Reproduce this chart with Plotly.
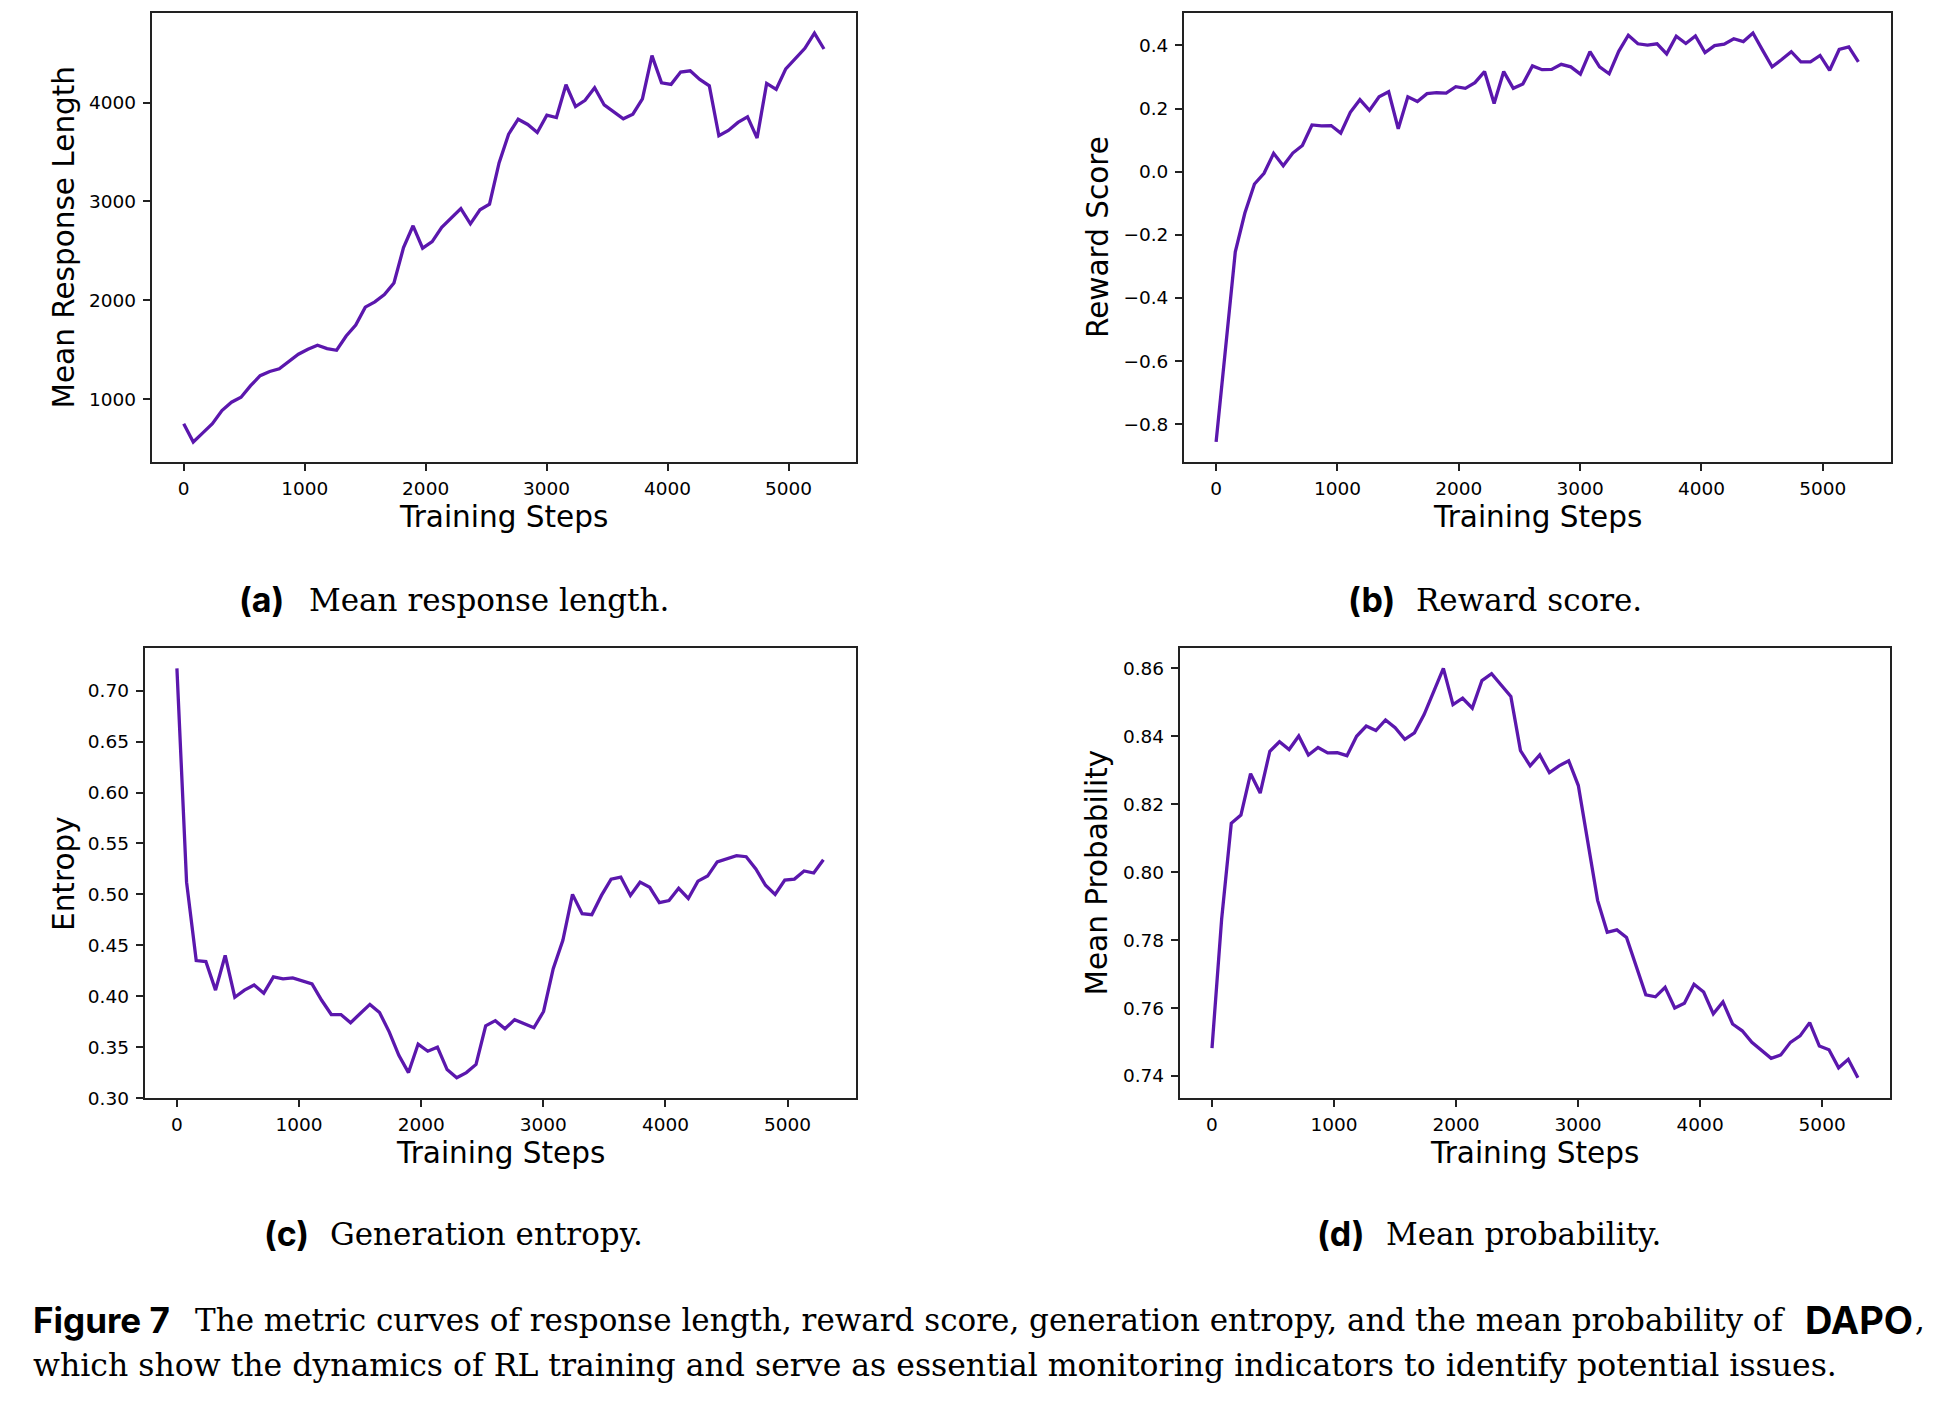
import plotly.graph_objects as go

# ---------------- data ----------------
steps = list(range(0, 5294, 79))  # 68 logged training steps

response_length = [752, 568, 660, 752, 886, 970, 1020, 1137, 1238, 1281,
                   1308, 1382, 1455, 1506, 1546, 1512, 1495, 1639, 1750, 1931,
                   1984, 2058, 2175, 2533, 2754, 2527, 2594, 2738, 2838, 2928,
                   2774, 2915, 2972, 3390, 3680, 3832, 3779, 3698, 3872, 3849,
                   4180, 3960, 4023, 4150, 3976, 3906, 3836, 3882, 4037, 4475,
                   4200, 4184, 4308, 4321, 4234, 4170, 3665, 3718, 3799, 3856,
                   3641, 4194, 4134, 4341, 4448, 4549, 4703, 4542]

reward_score = [-0.856, -0.555, -0.254, -0.131, -0.039, -0.005, 0.058, 0.019, 0.059, 0.083,
                0.148, 0.145, 0.146, 0.122, 0.188, 0.228, 0.194, 0.237, 0.253, 0.136,
                0.237, 0.222, 0.247, 0.250, 0.249, 0.269, 0.264, 0.282, 0.317, 0.216,
                0.317, 0.264, 0.278, 0.335, 0.323, 0.324, 0.340, 0.332, 0.309, 0.380,
                0.332, 0.310, 0.381, 0.432, 0.405, 0.401, 0.405, 0.373, 0.429, 0.406,
                0.430, 0.377, 0.399, 0.404, 0.421, 0.412, 0.439, 0.385, 0.332, 0.355,
                0.380, 0.348, 0.348, 0.368, 0.321, 0.387, 0.395, 0.348]

entropy = [0.722, 0.512, 0.435, 0.434, 0.406, 0.440, 0.399, 0.406, 0.411, 0.403,
           0.419, 0.417, 0.418, 0.415, 0.412, 0.396, 0.382, 0.382, 0.374, 0.383,
           0.392, 0.384, 0.365, 0.342, 0.325, 0.353, 0.346, 0.350, 0.328, 0.320,
           0.325, 0.333, 0.371, 0.376, 0.368, 0.377, 0.373, 0.369, 0.385, 0.427,
           0.455, 0.500, 0.481, 0.480, 0.499, 0.515, 0.517, 0.499, 0.512, 0.507,
           0.492, 0.494, 0.506, 0.496, 0.513, 0.518, 0.532, 0.535, 0.538, 0.537,
           0.525, 0.509, 0.500, 0.514, 0.515, 0.523, 0.521, 0.534]

mean_prob = [0.7482, 0.7862, 0.8144, 0.8168, 0.8290, 0.8233, 0.8356, 0.8384, 0.8361, 0.8401,
             0.8345, 0.8367, 0.8351, 0.8352, 0.8343, 0.8400, 0.8430, 0.8417, 0.8448, 0.8425,
             0.8391, 0.8410, 0.8464, 0.8531, 0.8600, 0.8493, 0.8512, 0.8483, 0.8564, 0.8584,
             0.8551, 0.8517, 0.8358, 0.8313, 0.8345, 0.8293, 0.8313, 0.8328, 0.8255, 0.8085,
             0.7917, 0.7823, 0.7830, 0.7808, 0.7726, 0.7639, 0.7633, 0.7661, 0.7600, 0.7614,
             0.7670, 0.7647, 0.7583, 0.7618, 0.7553, 0.7533, 0.7499, 0.7477, 0.7452, 0.7462,
             0.7499, 0.7518, 0.7557, 0.7488, 0.7477, 0.7424, 0.7449, 0.7395]

x_ticks = [0, 1000, 2000, 3000, 4000, 5000]
y_ticks_a = [1000, 2000, 3000, 4000]
y_ticks_b = [-0.8, -0.6, -0.4, -0.2, 0.0, 0.2, 0.4]
y_ticks_c = [0.30, 0.35, 0.40, 0.45, 0.50, 0.55, 0.60, 0.65, 0.70]
y_ticks_d = [0.74, 0.76, 0.78, 0.80, 0.82, 0.84, 0.86]

y_labels = ["Mean Response Length", "Reward Score", "Entropy", "Mean Probability"]
x_label = "Training Steps"
sub_tags = ["(a)", "(b)", "(c)", "(d)"]
sub_texts = ["Mean response length.", "Reward score.", "Generation entropy.", "Mean probability."]

# ---------------- layout helpers ----------------
W, H = 1938, 1408
LINE_COLOR = "#5b17ad"
AX_COLOR = "#222222"
SANS = "DejaVu Sans"
SERIF = "DejaVu Serif"
BOLD = "Inter"


def px(x):
    return x / W


def py(y):
    return 1 - y / H


def padded(vals, frac=0.05):
    lo, hi = min(vals), max(vals)
    d = (hi - lo) * frac
    return [lo - d, hi + d]


# panel frames in pixels: (left, right, top, bottom)
frames = [(151.7, 856.0, 12.7, 465.7),
          (1184.0, 1890.5, 12.7, 465.7),
          (144.6, 855.7, 652.5, 1106.0),
          (1179.7, 1890.2, 652.5, 1106.0)]

series = [response_length, reward_score, entropy, mean_prob]
yticks = [y_ticks_a, y_ticks_b, y_ticks_c, y_ticks_d]
yfmts = ["d", ".1f", ".2f", ".2f"]

fig = go.Figure()
annotations = []

for k in range(4):
    l, r, t, b = frames[k]
    xa = "x" if k == 0 else f"x{k+1}"
    ya = "y" if k == 0 else f"y{k+1}"
    fig.add_trace(go.Scatter(x=steps, y=series[k], mode="lines",
                             line=dict(color=LINE_COLOR, width=3.3),
                             xaxis=xa, yaxis=ya, showlegend=False, hoverinfo="skip"))
    common = dict(showline=True, mirror=True, linecolor=AX_COLOR, linewidth=1.8,
                  ticks="outside", ticklen=7, tickwidth=1.8, tickcolor=AX_COLOR,
                  showgrid=False, zeroline=False,
                  tickfont=dict(family=SANS, size=18.5, color="black"))
    xkey = "xaxis" if k == 0 else f"xaxis{k+1}"
    ykey = "yaxis" if k == 0 else f"yaxis{k+1}"
    fig.update_layout(**{
        xkey: dict(domain=[px(l), px(r)], anchor=ya, range=padded(steps),
                   tickmode="array", tickvals=x_ticks, ticktext=[str(v) for v in x_ticks],
                   ticklabelstandoff=2, **common),
        ykey: dict(domain=[py(b), py(t)], anchor=xa, range=padded(series[k]),
                   tickmode="array", tickvals=yticks[k], tickformat=yfmts[k],
                   ticklabelstandoff=3, **common),
    })
    # axis titles
    yl_x = {0: 64.0, 1: 1097.5, 2: 64.0, 3: 1097.5}[k]
    annotations.append(dict(x=px(yl_x), y=py((t + b) / 2), xref="paper", yref="paper",
                            text=y_labels[k], textangle=-90, showarrow=False,
                            xanchor="center", yanchor="middle",
                            font=dict(family=SANS, size=29.5, color="black")))
    annotations.append(dict(x=px((l + r) / 2), y=py(b + 55), xref="paper", yref="paper",
                            text=x_label, showarrow=False, xanchor="center", yanchor="middle",
                            font=dict(family=SANS, size=29.5, color="black")))

# sub-captions
sub_pos = [(237.3, 307.3, 604.0), (1346.0, 1414.0, 604.0),
           (262.0, 328.0, 1242.5), (1315.0, 1384.0, 1242.5)]
for k in range(4):
    xt, xs, ym = sub_pos[k]
    annotations.append(dict(x=px(xt), y=py(ym), xref="paper", yref="paper", text="<b>" + sub_tags[k] + "</b>",
                            showarrow=False, xanchor="left", yanchor="middle",
                            font=dict(family=BOLD, size=34, color="black")))
    annotations.append(dict(x=px(xs), y=py(ym), xref="paper", yref="paper", text=sub_texts[k],
                            showarrow=False, xanchor="left", yanchor="middle",
                            font=dict(family=SERIF, size=31, color="black")))

# figure caption
cap1 = "The metric curves of response length, reward score, generation entropy, and the mean probability of"
cap2 = "which show the dynamics of RL training and serve as essential monitoring indicators to identify potential issues."
annotations += [
    dict(x=px(31), y=py(1329), xref="paper", yref="paper", text="<b>Figure 7</b>", showarrow=False,
         xanchor="left", yanchor="middle", font=dict(family=BOLD, size=35, color="black")),
    dict(x=px(192.6), y=py(1329), xref="paper", yref="paper", text=cap1, showarrow=False,
         xanchor="left", yanchor="middle", font=dict(family=SERIF, size=31, color="black")),
    dict(x=px(1914.5), y=py(1329), xref="paper", yref="paper", text="<b>DAPO</b>", showarrow=False,
         xanchor="right", yanchor="middle", font=dict(family=BOLD, size=38, color="black")),
    dict(x=px(1913), y=py(1329), xref="paper", yref="paper", text=",", showarrow=False,
         xanchor="left", yanchor="middle", font=dict(family=SERIF, size=31, color="black")),
    dict(x=px(31), y=py(1375), xref="paper", yref="paper", text=cap2, showarrow=False,
         xanchor="left", yanchor="middle", font=dict(family=SERIF, size=31.5, color="black")),
]

fig.update_layout(width=W, height=H, margin=dict(l=0, r=0, t=0, b=0, pad=0),
                  paper_bgcolor="white", plot_bgcolor="white",
                  annotations=annotations, showlegend=False,
                  font=dict(family=SANS, color="black"))

fig.write_html("out.html", config={"displayModeBar": False},
               post_script="document.body.style.margin='0';document.body.style.overflow='hidden';")
